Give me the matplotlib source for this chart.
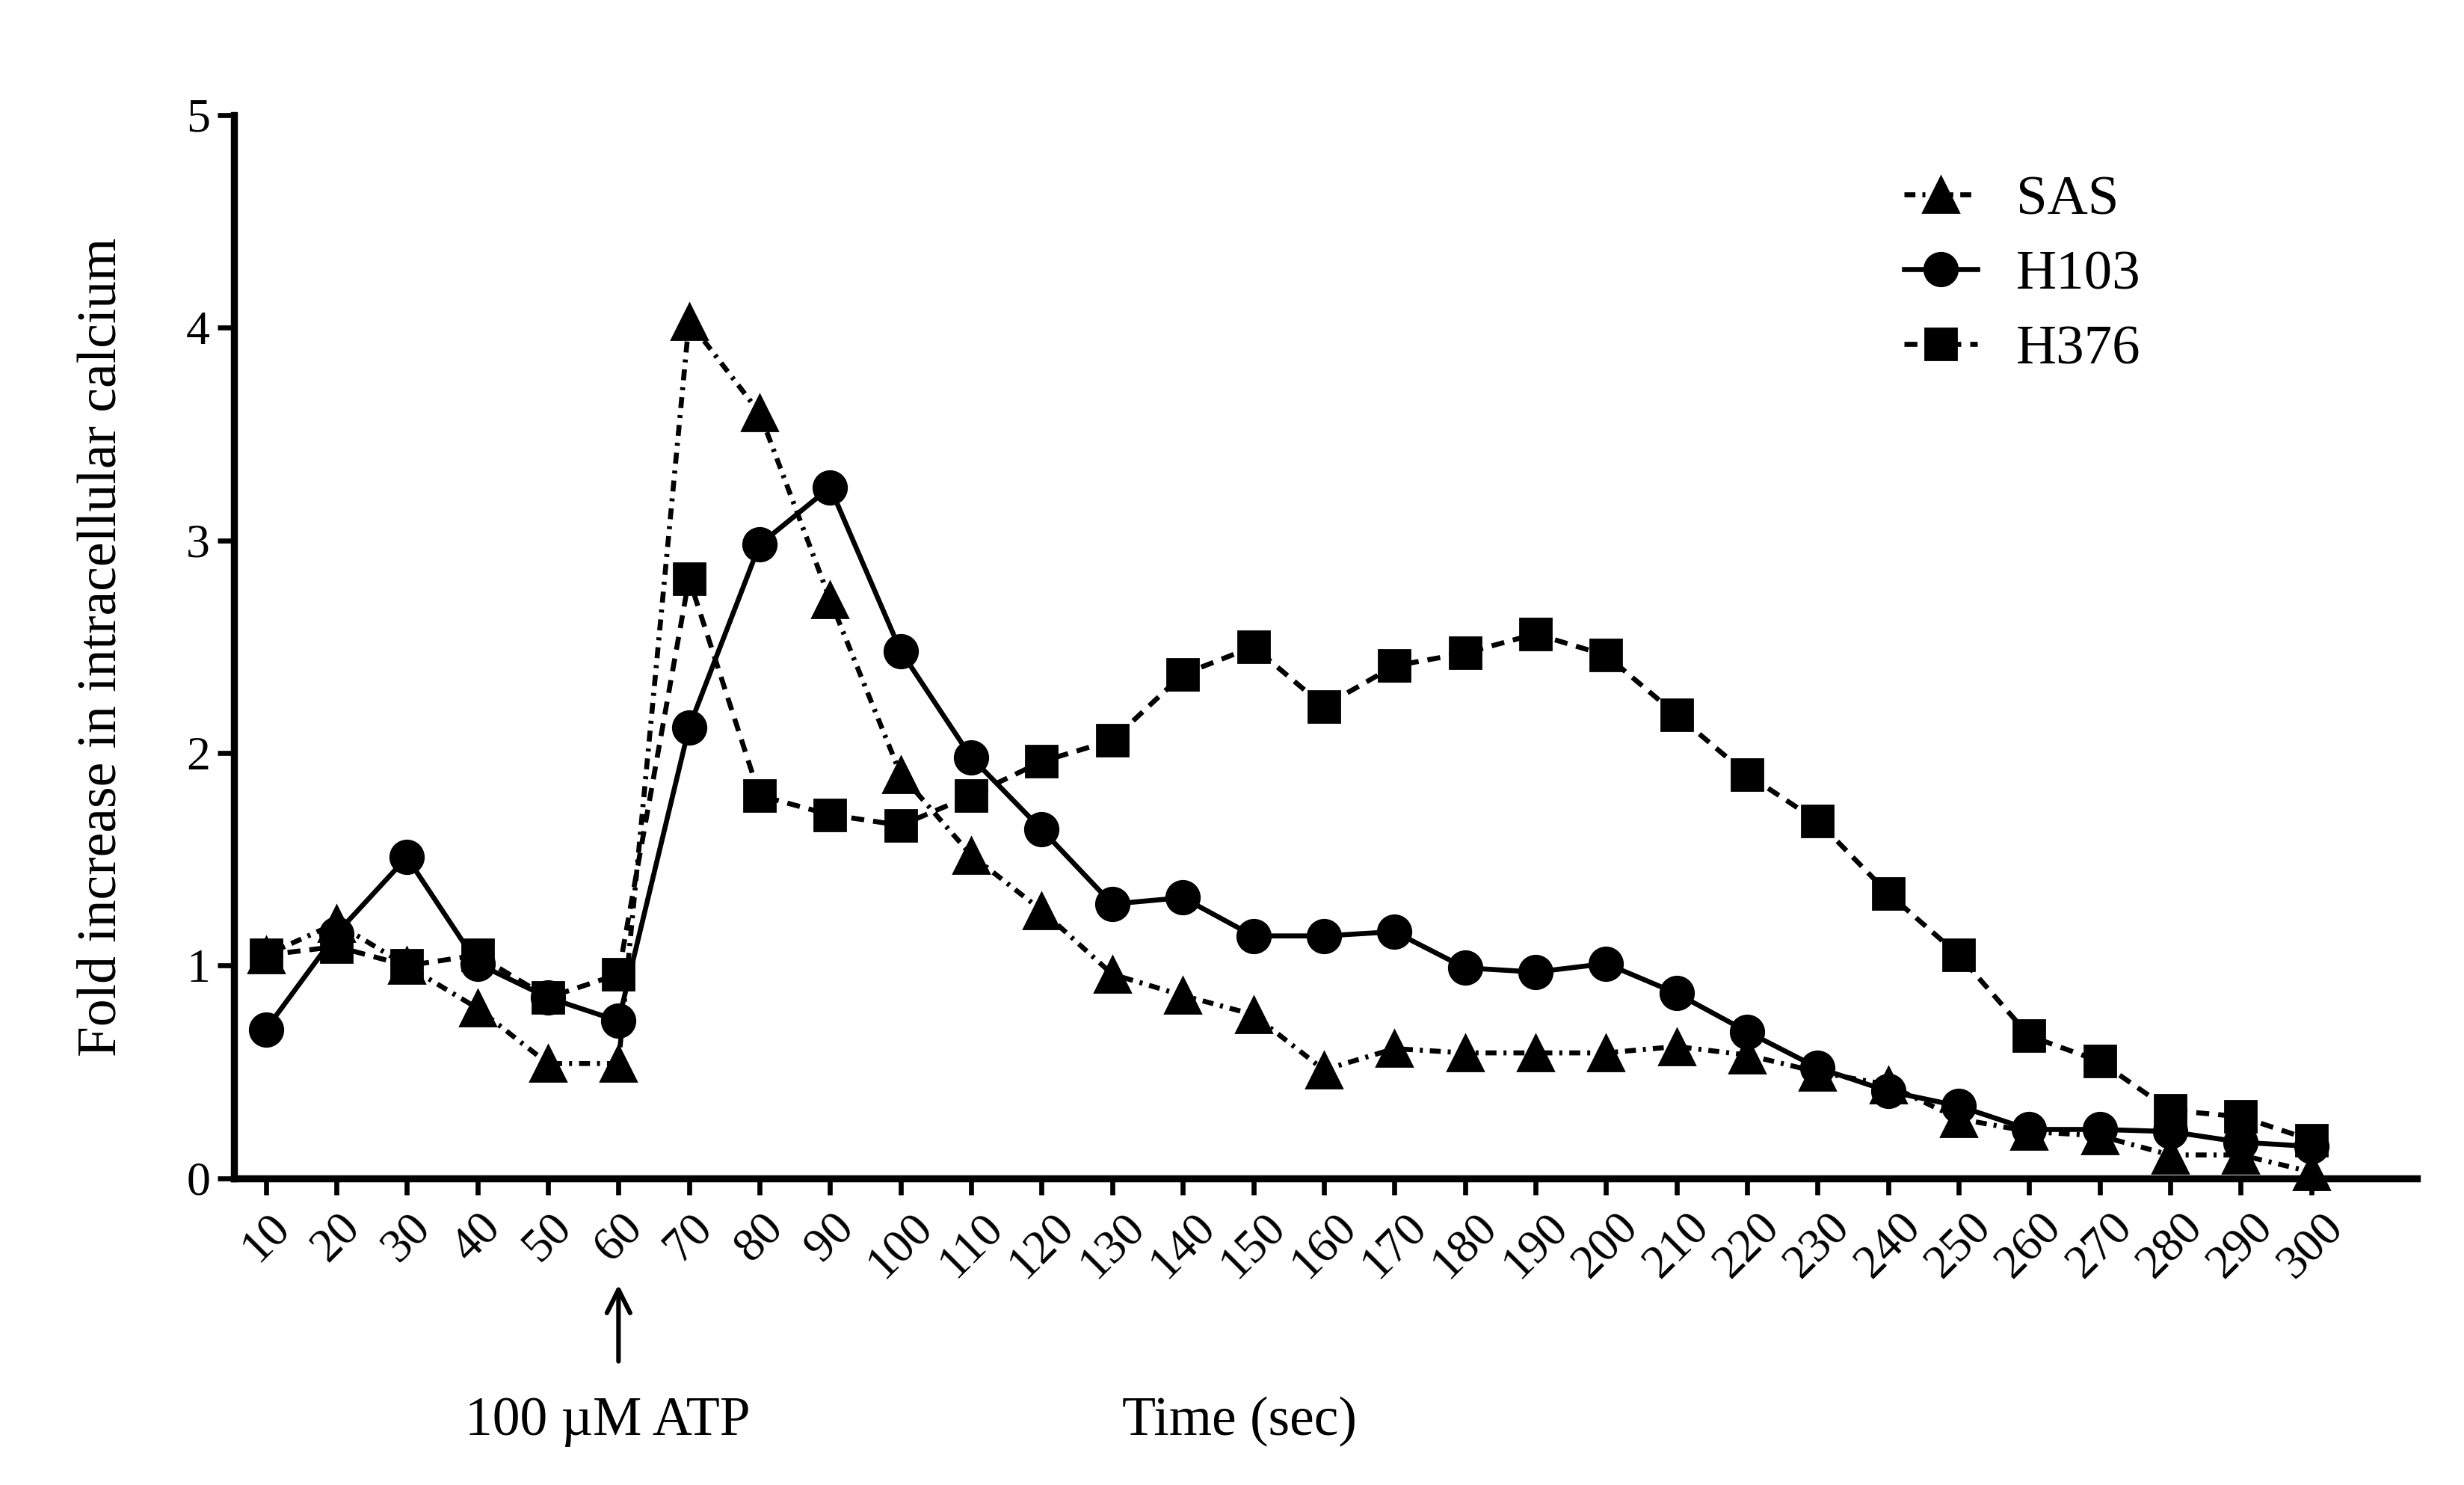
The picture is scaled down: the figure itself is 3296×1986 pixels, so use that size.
import matplotlib.pyplot as plt
import numpy as np

plt.rcParams['font.family'] = ['Liberation Serif', 'DejaVu Serif']

# time points (sec)
time = np.arange(10, 301, 10)

# fold increase in intracellular calcium
sas = [1.05, 1.20, 1.00, 0.80, 0.54, 0.54, 4.03, 3.60, 2.72, 1.90,
       1.52, 1.26, 0.96, 0.86, 0.77, 0.51, 0.61, 0.59, 0.59, 0.59,
       0.62, 0.58, 0.50, 0.44, 0.28, 0.22, 0.20, 0.11, 0.11, 0.03]
h103 = [0.70, 1.15, 1.51, 1.01, 0.85, 0.74, 2.12, 2.98, 3.25, 2.48,
        1.98, 1.64, 1.29, 1.32, 1.14, 1.14, 1.16, 0.99, 0.97, 1.01,
        0.87, 0.69, 0.52, 0.41, 0.34, 0.23, 0.23, 0.22, 0.17, 0.15]
h376 = [1.05, 1.09, 1.00, 1.05, 0.85, 0.96, 2.82, 1.80, 1.71, 1.66,
        1.80, 1.96, 2.06, 2.37, 2.50, 2.22, 2.41, 2.47, 2.56, 2.46,
        2.18, 1.90, 1.68, 1.34, 1.05, 0.67, 0.55, 0.32, 0.29, 0.18]

tick_labels = [str(t) for t in time]
yticks = [0, 1, 2, 3, 4, 5]

fig = plt.figure(figsize=(16.48, 9.93), dpi=200)
ax = fig.add_axes([0.095, 0.2065, 0.886, 0.716])

lw = 2.4
ax.plot(time, sas, color='black', lw=lw, marker='^', ms=17,
        dashes=(2.2, 1.4, 0.6, 1.4), label='SAS', clip_on=False)
ax.plot(time, h103, color='black', lw=lw, marker='o', ms=16,
        linestyle='-', label='H103', clip_on=False)
ax.plot(time, h376, color='black', lw=lw, marker='s', ms=15,
        dashes=(2.6, 1.8), label='H376', clip_on=False)

ax.set_xlim(5.5, 315)
ax.set_ylim(0, 5)
ax.set_xticks(time)
ax.set_xticklabels(tick_labels, rotation=45, ha='center', va='top')
ax.set_yticks(yticks)

for s in ['top', 'right']:
    ax.spines[s].set_visible(False)
for s in ['left', 'bottom']:
    ax.spines[s].set_linewidth(3.4)
ax.tick_params(axis='both', direction='out', length=8, width=2.4,
               labelsize=23, color='black')
ax.tick_params(axis='x', pad=5)

ax.set_ylabel('Fold increase in intracellular calcium', fontsize=26.5)
ax.yaxis.set_label_coords(-0.049, 0.5)

ax.text(148, -0.229, 'Time (sec)', fontsize=26.5, ha='center', va='center',
        transform=ax.get_xaxis_transform())

# ATP addition marker
ax.annotate('', xy=(60, -0.096), xytext=(60, -0.176),
            xycoords=ax.get_xaxis_transform(),
            textcoords=ax.get_xaxis_transform(),
            arrowprops=dict(arrowstyle='->', lw=2.2, color='black',
                            mutation_scale=28))
ax.text(58.5, -0.229, '100 \u00b5M ATP', fontsize=26.5, ha='center',
        va='center', transform=ax.get_xaxis_transform())

ax.legend(loc='upper left', bbox_to_anchor=(0.765, 0.944), frameon=False,
          fontsize=27, handlelength=1.3, handletextpad=0.7,
          labelspacing=0.42, borderpad=0, borderaxespad=0)

fig.savefig('out.png', dpi=200)
